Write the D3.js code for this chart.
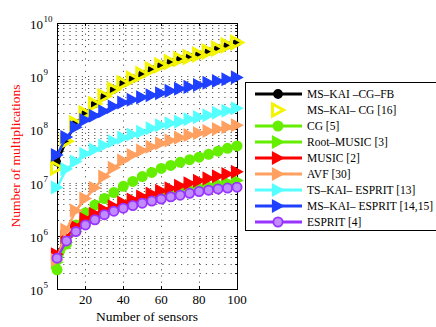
<!DOCTYPE html>
<html>
<head>
<meta charset="utf-8">
<script src="https://cdn.jsdelivr.net/npm/d3@7/dist/d3.min.js"></script>
<style>
  body { margin: 0; background: #fff; }
  svg { display: block; }
  text { font-family: "Liberation Serif", "Times New Roman", serif; }
</style>
</head>
<body>
<svg id="chart"></svg>
<script>
// number of sensors (x)
const sensors = [5, 10, 15, 20, 25, 30, 35, 40, 45, 50, 55, 60, 65, 70, 75, 80, 85, 90, 95, 100];

// number of multiplications, one list per method
const msKaiCgFb = [2.4e7, 6.2e7, 1.3e8, 2.0e8, 3.0e8, 4.2e8, 5.6e8, 7.4e8, 9.0e8, 1.1e9, 1.35e9, 1.6e9, 1.85e9, 2.1e9, 2.3e9, 2.55e9, 2.9e9, 3.3e9, 3.8e9, 4.3e9];
const msKaiCg = [1.9e7, 6.0e7, 1.3e8, 2.0e8, 3.0e8, 4.2e8, 5.6e8, 7.4e8, 9.0e8, 1.1e9, 1.35e9, 1.6e9, 1.85e9, 2.1e9, 2.3e9, 2.55e9, 2.9e9, 3.3e9, 3.8e9, 4.3e9];
const cg = [2.3e5, 7.0e5, 1.6e6, 2.7e6, 3.8e6, 5.0e6, 6.5e6, 8.5e6, 1.05e7, 1.3e7, 1.55e7, 1.85e7, 2.1e7, 2.4e7, 2.7e7, 3.0e7, 3.4e7, 3.9e7, 4.4e7, 4.9e7];
const rootMusic = [3.2e5, 7.5e5, 1.2e6, 1.7e6, 2.2e6, 2.7e6, 3.2e6, 3.7e6, 4.2e6, 4.7e6, 5.3e6, 5.9e6, 6.5e6, 7.1e6, 7.8e6, 8.4e6, 9.0e6, 9.7e6, 1.03e7, 1.1e7];
const music = [4.5e5, 9.5e5, 1.5e6, 2.1e6, 2.6e6, 3.1e6, 3.6e6, 4.2e6, 4.8e6, 5.5e6, 6.2e6, 7.0e6, 7.8e6, 8.7e6, 9.7e6, 1.08e7, 1.2e7, 1.32e7, 1.45e7, 1.6e7];
const avf = [3.5e5, 1.3e6, 3.0e6, 5.0e6, 8.0e6, 1.3e7, 1.9e7, 2.6e7, 3.3e7, 4.0e7, 4.7e7, 5.5e7, 6.2e7, 7.0e7, 7.8e7, 8.5e7, 9.3e7, 1.02e8, 1.1e8, 1.2e8];
const tsKaiEsprit = [8.1e6, 1.8e7, 2.5e7, 3.5e7, 4.2e7, 5.0e7, 6.0e7, 7.0e7, 8.0e7, 9.0e7, 1.05e8, 1.2e8, 1.3e8, 1.4e8, 1.55e8, 1.7e8, 1.85e8, 2.05e8, 2.25e8, 2.5e8];
const msKaiEsprit = [3.3e7, 7.2e7, 1.1e8, 1.5e8, 1.8e8, 2.2e8, 2.7e8, 3.2e8, 3.6e8, 4.0e8, 4.4e8, 4.8e8, 5.3e8, 5.8e8, 6.3e8, 6.8e8, 7.5e8, 8.1e8, 8.8e8, 9.5e8];
const esprit = [3.8e5, 8.0e5, 1.2e6, 1.6e6, 2.0e6, 2.5e6, 2.9e6, 3.3e6, 3.7e6, 4.1e6, 4.5e6, 4.9e6, 5.4e6, 5.8e6, 6.3e6, 6.8e6, 7.2e6, 7.6e6, 7.9e6, 8.2e6];

const legendLabels = ["MS\u2013KAI \u2013CG\u2013FB", "MS\u2013KAI\u2013 CG [16]", "CG [5]", "Root\u2013MUSIC [3]", "MUSIC [2]",
  "AVF [30]", "TS\u2013KAI\u2013 ESPRIT [13]", "MS\u2013KAI\u2013 ESPRIT [14,15]", "ESPRIT [4]"];

const xTicks = [20, 40, 60, 80, 100];
const yExponents = [5, 6, 7, 8, 9, 10];

const width = 436, height = 327;
const plotLeft = 57, plotRight = 237, plotTop = 23, plotBottom = 289;

const series = [
  {values: msKaiCgFb, color: "#000000", marker: "circle", line: true, fill: "#000000"},
  {values: msKaiCg, color: "#f4f400", marker: "tri", line: false, fill: "none"},
  {values: cg, color: "#66ee00", marker: "circle", line: true, fill: "#66ee00"},
  {values: rootMusic, color: "#66ee00", marker: "tri", line: true, fill: "#66ee00"},
  {values: music, color: "#ff0000", marker: "tri", line: true, fill: "#ff0000"},
  {values: avf, color: "#ffa060", marker: "tri", line: true, fill: "#ffa060"},
  {values: tsKaiEsprit, color: "#55ffff", marker: "tri", line: true, fill: "#55ffff"},
  {values: msKaiEsprit, color: "#1f40ff", marker: "tri", line: true, fill: "#1f40ff"},
  {values: esprit, color: "#9933ff", marker: "circle", line: true, fill: "#c08cff"}
];
series.forEach((s, i) => s.label = legendLabels[i]);

const svg = d3.select("#chart")
  .attr("width", width)
  .attr("height", height);

const x = d3.scaleLinear().domain([5, 100]).range([plotLeft, plotRight]);
const y = d3.scaleLog().domain([1e5, 1e10]).range([plotBottom, plotTop]);

// grid, dotted like matlab
const minorY = [];
for (let e = 5; e < 10; e++) for (let m = 1; m < 10; m++) minorY.push(m * Math.pow(10, e));
minorY.push(1e10);

const grid = svg.append("g")
  .attr("stroke", "#222")
  .attr("stroke-width", 1)
  .attr("stroke-dasharray", "1.2,5")
  .attr("opacity", 0.75);
grid.selectAll("line.h")
  .data(minorY.filter(v => v > 1e5 && v < 1e10))
  .join("line")
  .attr("x1", plotLeft).attr("x2", plotRight)
  .attr("y1", d => Math.round(y(d)) + 0.5).attr("y2", d => Math.round(y(d)) + 0.5);
grid.selectAll("line.v")
  .data(xTicks.filter(d => d < 100))
  .join("line")
  .attr("y1", plotBottom).attr("y2", plotTop)
  .attr("x1", d => Math.round(x(d)) + 0.5).attr("x2", d => Math.round(x(d)) + 0.5);

// ticks pointing inwards on all four sides
const ticks = svg.append("g").attr("stroke", "#000").attr("stroke-width", 1);
xTicks.forEach(t => {
  const px = Math.round(x(t)) + 0.5;
  ticks.append("line").attr("x1", px).attr("x2", px).attr("y1", plotBottom).attr("y2", plotBottom - 3);
  ticks.append("line").attr("x1", px).attr("x2", px).attr("y1", plotTop).attr("y2", plotTop + 3);
});
minorY.forEach(v => {
  const py = Math.round(y(v)) + 0.5;
  const len = Math.abs(Math.log10(v) % 1) < 1e-9 ? 3 : 1.8;
  ticks.append("line").attr("x1", plotLeft).attr("x2", plotLeft + len).attr("y1", py).attr("y2", py);
  ticks.append("line").attr("x1", plotRight).attr("x2", plotRight - len).attr("y1", py).attr("y2", py);
});

svg.append("rect")
  .attr("x", plotLeft + 0.5).attr("y", plotTop + 0.5)
  .attr("width", plotRight - plotLeft).attr("height", plotBottom - plotTop)
  .attr("fill", "none").attr("stroke", "#000").attr("stroke-width", 1);

// tick labels
svg.append("g")
  .attr("font-size", 13)
  .attr("text-anchor", "middle")
  .selectAll("text")
  .data(xTicks)
  .join("text")
  .attr("x", d => x(d))
  .attr("y", 304)
  .text(d => d);

const yLab = svg.append("g").attr("font-size", 13);
yExponents.forEach(e => {
  const py = y(Math.pow(10, e));
  yLab.append("text").attr("x", 43).attr("y", py + 6).attr("text-anchor", "end").text("10");
  yLab.append("text").attr("x", 43.5).attr("y", py - 1).attr("font-size", 9).text(e);
});

svg.append("text")
  .attr("x", (plotLeft + plotRight) / 2)
  .attr("y", 321)
  .attr("text-anchor", "middle")
  .attr("font-size", 13.5)
  .text("Number of sensors");

svg.append("text")
  .attr("transform", `translate(20, ${(plotTop + plotBottom) / 2}) rotate(-90)`)
  .attr("text-anchor", "middle")
  .attr("font-size", 13.5)
  .attr("fill", "#ff0000")
  .text("Number of multiplications");

// markers
const triPath = "M-5.5,-6L5.5,0L-5.5,6Z";
function drawMarker(g, s, px, py, r) {
  if (s.marker === "circle") {
    g.append("circle").attr("cx", px).attr("cy", py).attr("r", r)
      .attr("fill", s.fill).attr("stroke", s.color).attr("stroke-width", 1.8);
  } else {
    g.append("path").attr("d", triPath).attr("transform", `translate(${px},${py})`)
      .attr("fill", s.fill).attr("stroke", s.color)
      .attr("stroke-width", s.fill === "none" ? 3 : 1.2).attr("stroke-linejoin", "miter");
  }
}

const line = d3.line().x(d => x(d[0])).y(d => y(d[1]));

series.forEach(s => {
  const g = svg.append("g");
  const pts = sensors.map((m, i) => [m, s.values[i]]);
  if (s.line) {
    g.append("path").attr("d", line(pts)).attr("fill", "none")
      .attr("stroke", s.color).attr("stroke-width", 2.5);
  }
  const r = s.color === "#000000" ? 3.2 : 4.6;
  pts.forEach(p => drawMarker(g, s, x(p[0]), y(p[1]), r));
});

// legend
const lg = svg.append("g");
lg.append("rect")
  .attr("x", 245.5).attr("y", 82.5)
  .attr("width", 200).attr("height", 148)
  .attr("fill", "#fff").attr("stroke", "#000").attr("stroke-width", 1);

series.forEach((s, i) => {
  const ly = 94 + i * 16;
  if (s.line) {
    lg.append("line").attr("x1", 255).attr("x2", 302).attr("y1", ly).attr("y2", ly)
      .attr("stroke", s.color).attr("stroke-width", 3);
  }
  const r = s.color === "#000000" ? 4 : 4.6;
  drawMarker(lg, s, 278, ly, r);
  lg.append("text")
    .attr("x", 307).attr("y", ly + 4)
    .attr("font-size", 11.5)
    .text(s.label);
});
</script>
</body>
</html>
